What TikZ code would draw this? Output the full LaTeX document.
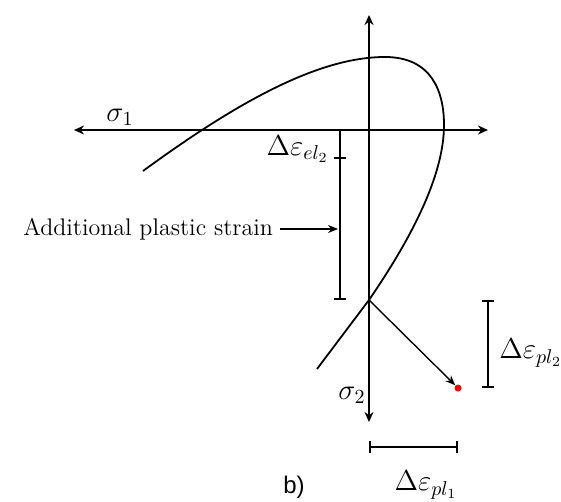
\documentclass[tikz,border=0pt]{standalone}
\usepackage{fontspec}
\newfontfamily\captionfont{Liberation Sans}
\usetikzlibrary{arrows.meta}

\begin{document}
\begin{tikzpicture}[
    x=0.5pt, y=-0.5pt,
    font=\large,
    axis/.style={
        {Stealth[length=5pt,width=4.5pt]}-{Stealth[length=5pt,width=4.5pt]},
        line width=0.8pt
    },
    surface/.style={
        line width=0.9pt
    },
    increment/.style={
        -{Stealth[length=5pt,width=4pt]},
        line width=0.7pt
    },
    dimline/.style={
        {Bar[width=6pt]}-{Bar[width=6pt]},
        line width=0.8pt
    },
    halfdim/.style={
        -{Bar[width=6pt]},
        line width=0.8pt
    },
    pointer/.style={
        -{Stealth[length=5pt,width=4pt]},
        line width=0.7pt
    },
    dot/.style={
        circle,
        fill=red,
        minimum size=3.5pt,
        inner sep=0pt
    },
    mathlabel/.style={
        font=\Large,
        inner sep=1pt
    }
]

\useasboundingbox (0,0) rectangle (561,502);

%% --- Axes ---
\coordinate (Xl) at (74,130);
\coordinate (Xr) at (488,130);
\coordinate (Yt) at (369,15);
\coordinate (Yb) at (369,422);
\draw[axis] (Xl) -- (Xr);
\draw[axis] (Yt) -- (Yb);

\node[mathlabel] (S1) at (120,117) {$\sigma_1$};
\node[mathlabel] (S2) at (352,395) {$\sigma_2$};

%% --- Yield surface ---
\coordinate (P) at (369,300);
\draw[surface] (143,171) .. controls (240,100) and (320,57) .. (385,57)
    .. controls (432,57) and (444,92) .. (444,125)
    .. controls (444,178) and (408,243) .. (P)
    -- (317,369);

%% --- Plastic strain increment ---
\node[dot] (D) at (458,388) {};
\draw[increment] (P) -- (D);

%% --- Elastic / plastic part on sigma_2 ---
\coordinate (E1) at (340,130);
\coordinate (E2) at (340,159);
\coordinate (E3) at (340,300);
\draw[halfdim] (E1) -- (E2);
\draw[halfdim] (E2) -- (E3);
\node[mathlabel, anchor=north east] (Lel) at (331,133) {$\Delta\varepsilon_{el_2}$};

\node[anchor=east] (Ladd) at (280,229) {Additional plastic strain};
\coordinate (A) at (338,229);
\draw[pointer] (Ladd) -- (A);

%% --- Plastic components ---
\coordinate (R1) at (488,300);
\coordinate (R2) at (488,388);
\draw[dimline] (R1) -- (R2);
\node[mathlabel, anchor=west] (Lpl2) at (497,353) {$\Delta\varepsilon_{pl_2}$};

\coordinate (B1) at (369,447);
\coordinate (B2) at (458,447);
\draw[dimline] (B1) -- (B2);
\node[mathlabel] (Lpl1) at (426,485) {$\Delta\varepsilon_{pl_1}$};

\node[font=\captionfont\large] (Cap) at (294,487) {b)};

\end{tikzpicture}
\end{document}
